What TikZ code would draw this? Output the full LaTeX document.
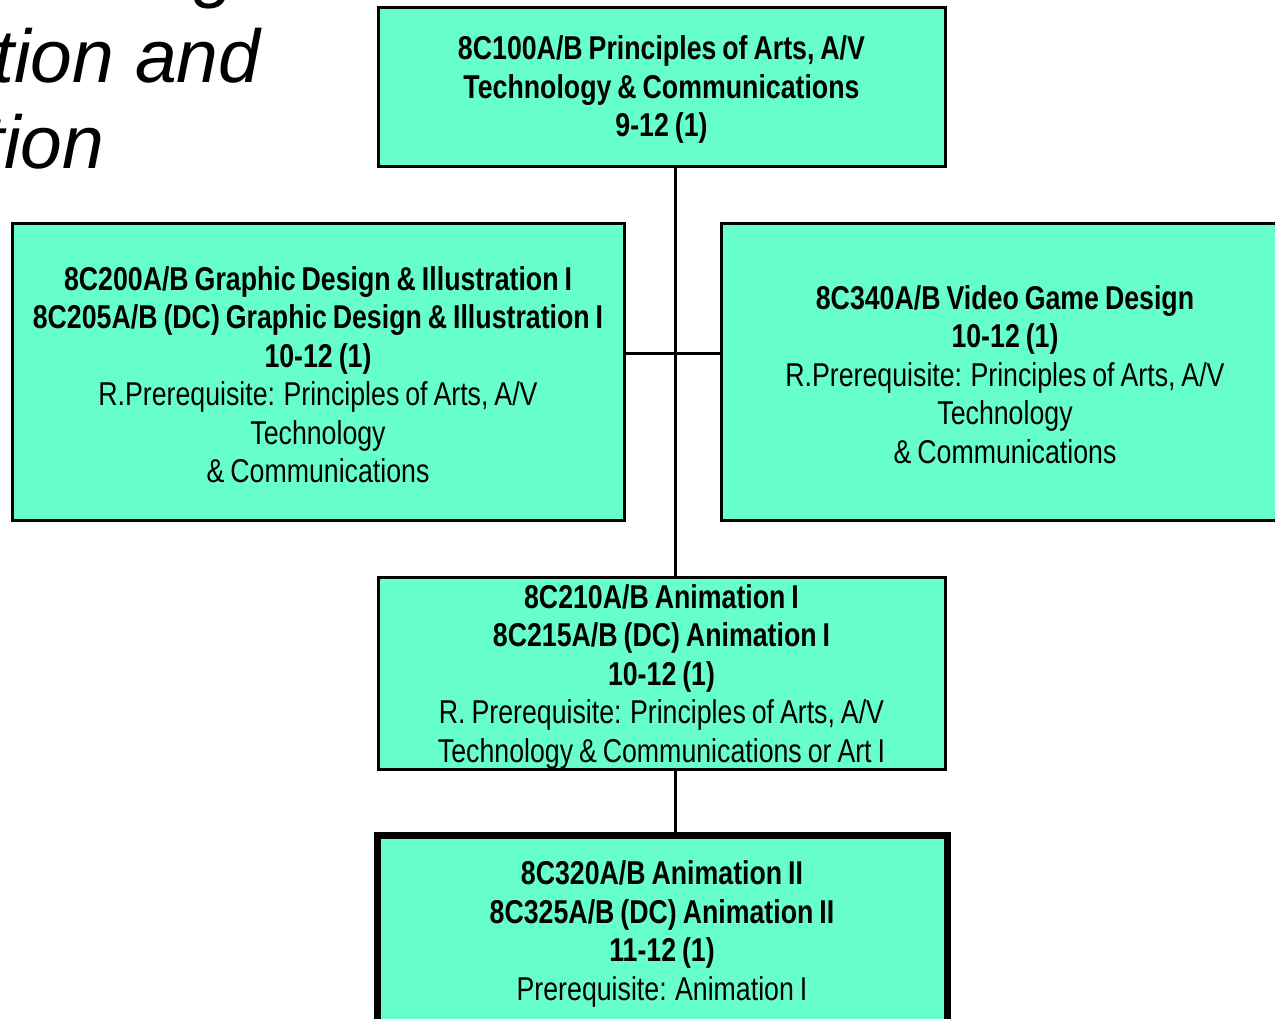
\documentclass[tikz,border=0pt]{standalone}
\usepackage{fontspec}
\setmainfont{Liberation Sans}[FakeStretch=0.81,WordSpace=0.8]
\newfontfamily\titlefont{Liberation Sans}
\definecolor{boxfill}{RGB}{102,255,204}
\begin{document}
\begin{tikzpicture}[x=0.5pt,y=-0.5pt,
  course/.style={draw=black,fill=boxfill,line width=1.5pt,rectangle,inner sep=0pt},
  lastcourse/.style={course,line width=3.5pt},
  coursetext/.style={inner sep=0pt,align=center,yshift=-1.5pt,
    font=\fontsize{16.5}{19.25}\selectfont},
  link/.style={draw=black,line width=1.5pt},
  titletext/.style={inner sep=0pt,font=\titlefont\itshape\fontsize{37.5}{45}\selectfont}]
\useasboundingbox (0,0) rectangle (1275,1018);
% title fragments
\node[titletext,anchor=base west] (t0) at (194,-7) {g};
\node[titletext,anchor=base west] (t1) at (-7,82) {tion and};
\node[titletext,anchor=base west] (t2) at (-17,168) {tion};
% boxes (sizes in pt = pixels / 2)
\node[course,minimum width=283.5pt,minimum height=79.5pt] (b100) at (661.5,86.5) {};
\node[coursetext] (b100t) at (b100.center)
 {\textbf{8C100A/B Principles of Arts, A/V}\\\textbf{Technology \& Communications}\\\textbf{9-12 (1)}};
\node[course,minimum width=306pt,minimum height=148.5pt] (b200) at (318,371.5) {};
\node[coursetext] (b200t) at (b200.center)
 {\textbf{8C200A/B Graphic Design \& Illustration I}\\\textbf{8C205A/B (DC) Graphic Design \& Illustration I}\\\textbf{10-12 (1)}\\R.Prerequisite: Principles of Arts, A/V\\Technology\\\& Communications};
\node[course,minimum width=284pt,minimum height=148.5pt] (b340) at (1005,371.5) {};
\node[coursetext] (b340t) at (b340.center)
 {\textbf{8C340A/B Video Game Design}\\\textbf{10-12 (1)}\\R.Prerequisite: Principles of Arts, A/V\\Technology\\\& Communications};
\node[course,minimum width=283.5pt,minimum height=96pt] (b210) at (661.5,673.5) {};
\node[coursetext] (b210t) at (b210.center)
 {\textbf{8C210A/B Animation I}\\\textbf{8C215A/B (DC) Animation I}\\\textbf{10-12 (1)}\\R. Prerequisite: Principles of Arts, A/V\\Technology \& Communications or Art I};
\node[lastcourse,minimum width=285pt,minimum height=96pt] (b320) at (662,931) {};
\node[coursetext] (b320t) at (b320.center)
 {\textbf{8C320A/B Animation II}\\\textbf{8C325A/B (DC) Animation II}\\\textbf{11-12 (1)}\\Prerequisite: Animation I};
% connectors
\coordinate (j1) at (675,353);
\draw[link] (b100.south -| j1) -- (b210.north -| j1);
\draw[link] (b200.east |- j1) -- (b340.west |- j1);
\draw[link] (b210.south -| j1) -- (b320.north -| j1);
\end{tikzpicture}
\end{document}
